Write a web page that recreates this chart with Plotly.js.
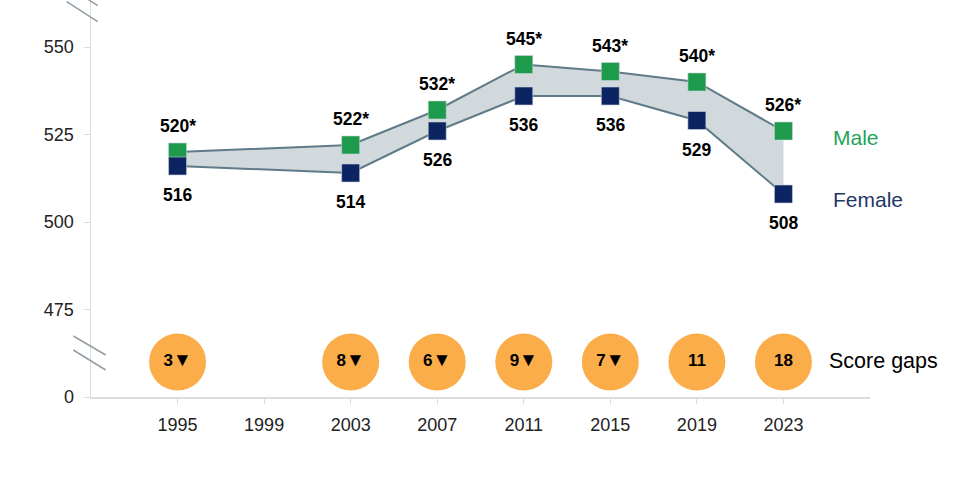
<!DOCTYPE html>
<html>
<head>
<meta charset="utf-8">
<script src="https://cdn.plot.ly/plotly-3.0.1.min.js"></script>
<style>html,body{margin:0;padding:0;background:#fff;}#chart{width:977px;height:502px;}</style>
</head>
<body>
<div id="chart"></div>
<script>
const years = [1995, 2003, 2007, 2011, 2015, 2019, 2023];
const male = [520, 522, 532, 545, 543, 540, 526];
const female = [516, 514, 526, 536, 536, 529, 508];
const maleLabels = ['520*', '522*', '532*', '545*', '543*', '540*', '526*'];
const femaleLabels = ['516', '514', '526', '536', '536', '529', '508'];
const gapLabels = ['3▼', '8▼', '6▼', '9▼', '7▼', '11', '18'];
const gapRow = [460, 460, 460, 460, 460, 460, 460];
const xTicks = [1995, 1999, 2003, 2007, 2011, 2015, 2019, 2023];
const yTickVals = [450, 475, 500, 525, 550];
const yTickText = ['0', '475', '500', '525', '550'];

const FONT = 'Liberation Sans, Arial, sans-serif';
const GREEN = '#1d9a4c', NAVY = '#0c2461', LINE = '#5f7a88', ORANGE = '#fbad4a';

const gapText = gapLabels.map(t => t.replace('▼', '<span style="font-size:19px">▼</span>'));

const traces = [
  {x: years, y: female, mode: 'lines', line: {color: LINE, width: 2}, hoverinfo: 'skip'},
  {x: years, y: male, mode: 'lines', line: {color: LINE, width: 2}, fill: 'tonexty', fillcolor: '#d2d9dd', hoverinfo: 'skip'},
  {x: years, y: male, mode: 'markers', marker: {symbol: 'square', size: 18, color: GREEN, line: {width: 0.6, color: '#c8d3d8'}}},
  {x: years, y: female, mode: 'markers', marker: {symbol: 'square', size: 18, color: NAVY, line: {width: 0.6, color: '#c8d3d8'}}},
  {x: years, y: gapRow, mode: 'markers+text', text: gapText, textposition: 'middle center',
   textfont: {family: FONT, size: 17, color: '#000', weight: 'bold'},
   marker: {size: 57, color: ORANGE}}
];

const annotations = [];
years.forEach((yr, i) => {
  annotations.push({x: yr, y: male[i], text: '<b>' + maleLabels[i] + '</b>', showarrow: false, yshift: 26,
    font: {family: FONT, size: 17.5, color: '#000'}});
  annotations.push({x: yr, y: female[i], text: '<b>' + femaleLabels[i] + '</b>', showarrow: false, yshift: -29,
    font: {family: FONT, size: 17.5, color: '#000'}});
});
annotations.push({xref: 'paper', x: 0.950, xanchor: 'left', y: 524.1, text: 'Male', showarrow: false, font: {family: FONT, size: 21, color: '#1fa35a'}});
annotations.push({xref: 'paper', x: 0.950, xanchor: 'left', y: 506.3, text: 'Female', showarrow: false, font: {family: FONT, size: 21, color: '#1f3864'}});
annotations.push({xref: 'paper', x: 0.945, xanchor: 'left', y: 460.3, text: 'Score gaps', showarrow: false, font: {family: FONT, size: 21.5, color: '#000'}});

// axis-break marks (pixel positions converted to paper coords)
const L = 91, W = 779, B = 397, H = 397;
const px = v => (v - L) / W, py = v => (B - v) / H;
const brk = [[66.7, 1.7, 97.7, 21.7], [80, -6, 97.7, 5.7], [73.3, 336, 105.7, 355], [73.3, 350, 105.7, 370]];
const shapes = brk.map(s => ({type: 'line', xref: 'paper', yref: 'paper', x0: px(s[0]), y0: py(s[1]), x1: px(s[2]), y1: py(s[3]),
  line: {color: '#8f9ea6', width: 1.5}}));

const layout = {
  width: 977, height: 502,
  margin: {l: 91, r: 107, t: 0, b: 105},
  paper_bgcolor: '#fff', plot_bgcolor: '#fff',
  showlegend: false,
  font: {family: FONT, size: 16, color: '#222'},
  xaxis: {range: [1991, 2027], tickvals: xTicks, ticktext: xTicks.map(String), showgrid: false, zeroline: false,
    showline: true, linecolor: '#dcdcdc', linewidth: 1.5, ticks: 'outside', ticklen: 5, tickcolor: '#dcdcdc',
    ticklabelstandoff: 6, tickfont: {family: FONT, size: 18, color: '#222'}},
  yaxis: {range: [450, 563.43], tickvals: yTickVals, ticktext: yTickText, showgrid: false, zeroline: false,
    showline: true, linecolor: '#dcdcdc', linewidth: 1.5, ticks: 'outside', ticklen: 6, tickcolor: '#dcdcdc',
    ticklabelstandoff: 6, tickfont: {family: FONT, size: 18, color: '#222'}},
  annotations: annotations,
  shapes: shapes
};

Plotly.newPlot('chart', traces, layout, {displayModeBar: false, staticPlot: true});
</script>
</body>
</html>
